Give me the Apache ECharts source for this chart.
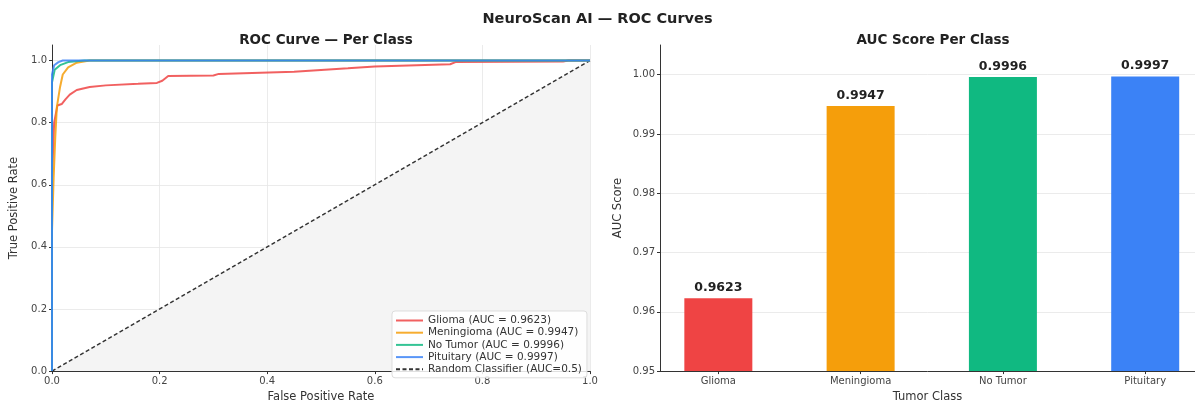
<!DOCTYPE html>
<html>
<head>
<meta charset="utf-8">
<script src="https://cdn.jsdelivr.net/npm/echarts@6/dist/echarts.min.js"></script>
<style>
html,body{margin:0;padding:0;background:#fff;}
#chart{width:1195px;height:408px;}
</style>
</head>
<body>
<div id="chart"></div>
<script>
// ---- data ----
const rocTicks = [0, 0.2, 0.4, 0.6, 0.8, 1.0];
const aucTicks = [0.95, 0.96, 0.97, 0.98, 0.99, 1.00];

const gliomaFpr = [0, 0, 0.004, 0.010, 0.018, 0.025, 0.033, 0.046, 0.07, 0.10, 0.16, 0.195, 0.205, 0.216, 0.30, 0.31, 0.45, 0.55, 0.60, 0.74, 0.75, 0.95, 0.96, 1];
const gliomaTpr = [0, 0.62, 0.80, 0.855, 0.86, 0.875, 0.89, 0.905, 0.915, 0.92, 0.925, 0.928, 0.935, 0.95, 0.952, 0.957, 0.964, 0.975, 0.981, 0.988, 0.995, 0.997, 1.0, 1];

const meningFpr = [0, 0, 0.003, 0.006, 0.009, 0.015, 0.02, 0.03, 0.046, 0.07, 1];
const meningTpr = [0, 0.45, 0.62, 0.75, 0.85, 0.915, 0.955, 0.978, 0.993, 1.0, 1];

const noTumorFpr = [0, 0, 0.005, 0.015, 0.03, 0.06, 1];
const noTumorTpr = [0, 0.93, 0.97, 0.985, 0.995, 1.0, 1];

const pituitaryFpr = [0, 0, 0.004, 0.012, 0.02, 1];
const pituitaryTpr = [0, 0.955, 0.985, 0.995, 1.0, 1];

const randomFpr = [0, 1];
const randomTpr = [0, 1];

const classNames = ['Glioma', 'Meningioma', 'No Tumor', 'Pituitary'];
const aucValues = [0.9623, 0.9947, 0.9996, 0.9997];
const classColors = ['#ef4444', '#f59e0b', '#10b981', '#3b82f6'];

// ---- build ----
function pairs(xs, ys) { return xs.map((x, i) => [x, ys[i]]); }
const rocSets = [
  [gliomaFpr, gliomaTpr],
  [meningFpr, meningTpr],
  [noTumorFpr, noTumorTpr],
  [pituitaryFpr, pituitaryTpr]
];

const FONT = 'DejaVu Sans';
const axisLineStyle = { color: '#333', width: 1 };
const labelStyle = { color: '#444', fontSize: 10, fontFamily: FONT };
const nameStyle = { color: '#333', fontSize: 11.5, fontFamily: FONT };

const series = [];
rocSets.forEach((s, i) => {
  series.push({
    name: classNames[i] + ' (AUC = ' + aucValues[i].toFixed(4) + ')',
    type: 'line',
    xAxisIndex: 0, yAxisIndex: 0,
    data: pairs(s[0], s[1]),
    showSymbol: false,
    symbol: 'none',
    lineStyle: { color: classColors[i], width: 2, opacity: 0.85 },
    itemStyle: { color: classColors[i], opacity: 0.85 },
    z: 3 + i
  });
});
series.push({
  name: 'Random Classifier (AUC=0.5)',
  type: 'line',
  xAxisIndex: 0, yAxisIndex: 0,
  data: pairs(randomFpr, randomTpr),
  showSymbol: false,
  symbol: 'none',
  lineStyle: { color: '#333', width: 1.5, type: [4, 2.5] },
  itemStyle: { color: '#333' },
  areaStyle: { color: '#f4f4f4', opacity: 1, origin: 'start' },
  z: 2
});
series.push({
  type: 'bar',
  xAxisIndex: 1, yAxisIndex: 1,
  data: aucValues.map((v, i) => ({ value: [i, v], itemStyle: { color: classColors[i] } })),
  barWidth: 68,
  label: {
    show: true, position: 'top', distance: 4,
    formatter: p => p.value[1].toFixed(4),
    fontFamily: FONT, fontWeight: 'bold', fontSize: 12.5, color: '#222'
  }
});

const option = {
  animation: false,
  backgroundColor: '#fff',
  title: [
    { text: 'NeuroScan AI — ROC Curves', left: 'center', top: 7,
      textStyle: { fontFamily: FONT, fontWeight: 'bold', fontSize: 14.5, color: '#222' } },
    { text: 'ROC Curve — Per Class', left: 321, top: 28, textAlign: 'center',
      textStyle: { fontFamily: FONT, fontWeight: 'bold', fontSize: 13.5, color: '#222' } },
    { text: 'AUC Score Per Class', left: 928, top: 28, textAlign: 'center',
      textStyle: { fontFamily: FONT, fontWeight: 'bold', fontSize: 13.5, color: '#222' } }
  ],
  legend: {
    data: series.slice(0, 5).map(s => s.name),
    orient: 'vertical',
    left: 392, top: 311,
    itemWidth: 27, itemHeight: 8, itemGap: 1.2,
    padding: [4, 5, 3, 3],
    backgroundColor: 'rgba(255,255,255,0.85)',
    borderColor: '#dddddd', borderWidth: 1, borderRadius: 3,
    itemStyle: { opacity: 0 },
    textStyle: { fontFamily: FONT, fontSize: 10.5, color: '#333', lineHeight: 10.5 },
    selectedMode: false
  },
  grid: [
    { left: 52, right: 605, top: 45, bottom: 28, containLabel: false },
    { left: 660, right: 0, top: 45, bottom: 28, containLabel: false }
  ],
  xAxis: [
    {
      type: 'value', gridIndex: 0, min: 0, max: 1, interval: 0.2,
      name: 'False Positive Rate', nameLocation: 'middle', nameGap: 16, nameTextStyle: nameStyle,
      axisLine: { show: true, onZero: false, lineStyle: axisLineStyle },
      axisTick: { show: true, length: 3, lineStyle: axisLineStyle },
      axisLabel: Object.assign({ formatter: v => v.toFixed(1), margin: 5 }, labelStyle),
      splitLine: { show: true, lineStyle: { color: '#e6e6e6', width: 0.8 } }
    },
    {
      type: 'value', gridIndex: 1, min: -0.41, max: 3.35,
      name: 'Tumor Class', nameLocation: 'middle', nameGap: 16, nameTextStyle: nameStyle,
      axisLine: { show: true, onZero: false, lineStyle: axisLineStyle },
      axisTick: { show: true, length: 3, lineStyle: axisLineStyle, customValues: [0, 1, 2, 3] },
      axisLabel: Object.assign({ customValues: [0, 1, 2, 3], formatter: v => classNames[Math.round(v)] || '', margin: 5 }, labelStyle),
      splitLine: { show: false }
    }
  ],
  yAxis: [
    {
      type: 'value', gridIndex: 0, min: 0, max: 1.05,
      name: 'True Positive Rate', nameLocation: 'middle', nameGap: 32, nameTextStyle: nameStyle,
      axisLine: { show: true, onZero: false, lineStyle: axisLineStyle },
      axisTick: { show: true, length: 3, lineStyle: axisLineStyle, customValues: rocTicks },
      axisLabel: Object.assign({ customValues: rocTicks, formatter: v => v.toFixed(1), margin: 5 }, labelStyle),
      splitLine: { show: true, lineStyle: { color: '#e6e6e6', width: 0.8 } }
    },
    {
      type: 'value', gridIndex: 1, min: 0.95, max: 1.005,
      name: 'AUC Score', nameLocation: 'middle', nameGap: 36, nameTextStyle: nameStyle,
      axisLine: { show: true, onZero: false, lineStyle: axisLineStyle },
      axisTick: { show: true, length: 3, lineStyle: axisLineStyle, customValues: aucTicks },
      axisLabel: Object.assign({ customValues: aucTicks, formatter: v => v.toFixed(2), margin: 5 }, labelStyle),
      splitLine: { show: true, lineStyle: { color: '#e6e6e6', width: 0.8 } }
    }
  ],
  series: series
};

const chart = echarts.init(document.getElementById('chart'), null, { renderer: 'canvas' });
chart.setOption(option);
</script>
</body>
</html>
